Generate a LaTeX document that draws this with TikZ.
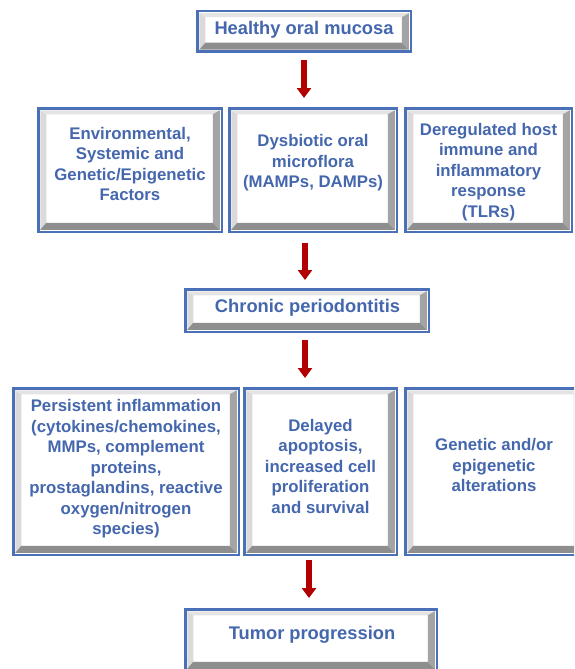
\documentclass[tikz,border=0pt]{standalone}
\usepackage{fontspec}
\setmainfont{Liberation Sans}
\usetikzlibrary{arrows.meta,calc}
\definecolor{bblue}{HTML}{4A70B8}
\definecolor{tblue}{HTML}{4567AE}
\definecolor{arrred}{HTML}{B20000}
\definecolor{bevlt}{HTML}{DADADA}
\definecolor{bevtop}{HTML}{E4E4E4}
\definecolor{bevrt}{HTML}{A4A4A4}
\definecolor{bevbt}{HTML}{8E8E8E}
\tikzset{
  bbox/.style={draw=bblue, line width=2.5pt, fill=white, inner sep=0pt,
    path picture={
      \path let \p1=(path picture bounding box.south west),
                \p2=(path picture bounding box.north east) in
        \pgfextra{
          \fill[bevlt] (\x1+2pt,\y2-2pt) -- (\x1+8pt,\y2-6pt) -- (\x1+8pt,\y1+9pt) -- (\x1+2pt,\y1+2pt) -- cycle;
          \fill[bevtop] (\x1+2pt,\y2-2pt) -- (\x2-2pt,\y2-2pt) -- (\x2-9pt,\y2-6pt) -- (\x1+8pt,\y2-6pt) -- cycle;
          \fill[bevrt] (\x2-2pt,\y2-2pt) -- (\x2-2pt,\y1+2pt) -- (\x2-9pt,\y1+9pt) -- (\x2-9pt,\y2-6pt) -- cycle;
          \fill[bevbt] (\x1+2pt,\y1+2pt) -- (\x2-2pt,\y1+2pt) -- (\x2-9pt,\y1+9pt) -- (\x1+8pt,\y1+9pt) -- cycle;
        };
    }},
  txt/.style={text=tblue, font=\bfseries\fontsize{16.8}{20.5}\selectfont, align=center, inner sep=0pt},
  ttl/.style={text=tblue, font=\bfseries\fontsize{18.3}{22}\selectfont, align=center, inner sep=0pt},
  rarrow/.style={draw=arrred, line width=6pt, -{Triangle[width=14pt,length=10pt]}, color=arrred}
}
\begin{document}
\begin{tikzpicture}[x=1pt,y=-1pt]
\useasboundingbox (0,0) rectangle (574,669);
\clip (0,0) rectangle (574,669);
\fill[white] (0,0) rectangle (574,669);

% boxes
\node[bbox, minimum width=213.5pt, minimum height=40.5pt] (healthy) at (304,31.5) {};
\node[bbox, minimum width=183.5pt, minimum height=123.5pt] (boxA) at (130,170) {};
\node[bbox, minimum width=167.5pt, minimum height=123.5pt] (boxB) at (313,170) {};
\node[bbox, minimum width=166.5pt, minimum height=123.5pt] (boxC) at (488.5,170) {};
\node[bbox, minimum width=243.5pt, minimum height=42.5pt] (chronic) at (307,310.5) {};
\node[bbox, minimum width=225.5pt, minimum height=166.5pt] (boxD) at (126,471.5) {};
\node[bbox, minimum width=152.5pt, minimum height=166.5pt] (boxE) at (320.5,471.5) {};
\node[bbox, minimum width=177.5pt, minimum height=166.5pt] (boxF) at (494,471.5) {};
\node[bbox, minimum width=251.5pt, minimum height=61.5pt] (tumor) at (311,640) {};

% texts
\node[ttl] (healthyT) at (304,30) {Healthy oral mucosa};
\node[txt] (AT) at (130,164) {Environmental,\\Systemic and\\Genetic/Epigenetic\\Factors};
\node[txt] (BT) at (313,163) {Dysbiotic oral\\microflora\\(MAMPs, DAMPs)};
\node[txt] (CT) at (488.5,172) {Deregulated host\\immune and\\inflammatory\\response\\(TLRs)};
\node[ttl] (chronicT) at (307.5,308) {Chronic periodontitis};
\node[txt] (DT) at (126,469) {Persistent inflammation\\(cytokines/chemokines,\\MMPs, complement\\proteins,\\prostaglandins, reactive\\oxygen/nitrogen\\species)};
\node[txt] (ET) at (320.5,466) {Delayed\\apoptosis,\\increased cell\\proliferation\\and survival};
\node[txt] (FT) at (494,465) {Genetic and/or\\epigenetic\\alterations};
\node[ttl] (tumorT) at (312,635) {Tumor progression};

% arrows
\coordinate (ax1) at (304,0);
\coordinate (ax2) at (305,0);
\coordinate (ax3) at (305,0);
\coordinate (ax4) at (309,0);
\draw[rarrow, shorten <=7pt, shorten >=9pt] (healthy.south -| ax1) -- (boxB.north -| ax1);
\draw[rarrow, shorten <=10pt, shorten >=8pt] (boxB.south -| ax2) -- (chronic.north -| ax2);
\draw[rarrow, shorten <=7pt, shorten >=9pt] (chronic.south -| ax3) -- (boxE.north -| ax3);
\draw[rarrow, shorten <=4pt, shorten >=10pt] (boxE.south -| ax4) -- (tumor.north -| ax4);
\end{tikzpicture}
\end{document}
